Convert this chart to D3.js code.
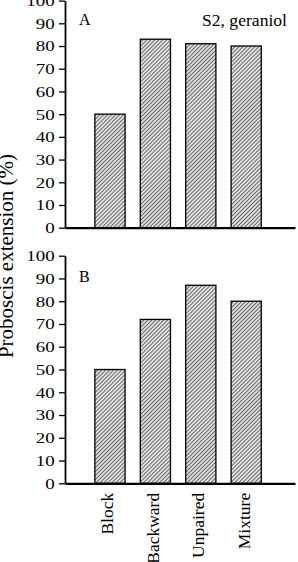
<!DOCTYPE html>
<html>
<head>
<meta charset="utf-8">
<script src="https://cdn.jsdelivr.net/npm/d3@7"></script>
<style>
  body { margin: 0; background: #fff; }
  svg { display: block; font-family: "Liberation Serif", "Times New Roman", serif; }
</style>
</head>
<body>
<svg id="chart"></svg>
<script>
var categories = ["Block", "Backward", "Unpaired", "Mixture"];
var valuesA = [50, 83, 81, 80];
var valuesB = [50, 72, 87, 80];
var yTicks = [0, 10, 20, 30, 40, 50, 60, 70, 80, 90, 100];

var dims = {
    width: 298,
    height: 562,
    left: 65,
    right: 295
}

var svg = d3.select("#chart")
    .attr("width", dims.width)
    .attr("height", dims.height)

// hatch fill used by the bars
var pat = svg.append("defs").append("pattern")
    .attr("id", "hatch")
    .attr("patternUnits", "userSpaceOnUse")
    .attr("width", 2.8)
    .attr("height", 2.8)
    .attr("patternTransform", "rotate(45)")
pat.append("rect").attr("width", 2.8).attr("height", 2.8).attr("fill", "#e0e0e0")
pat.append("line")
    .attr("x1", 0).attr("y1", 0).attr("x2", 0).attr("y2", 2.8)
    .attr("stroke", "#1a1a1a")
    .attr("stroke-width", 1.2)

var xScale = d3.scaleBand()
    .domain(categories)
    .range([dims.left, dims.right])
    .paddingInner(0.335)
    .paddingOuter(0.7)
    .align(0.47)

function drawPanel(values, top, bottom, letter, showLabels) {
    var yScale = d3.scaleLinear().domain([0, 100]).range([bottom, top])
    var g = svg.append("g")

    g.selectAll(".bar")
        .data(values)
        .enter()
        .append("rect")
        .attr("class", "bar")
        .attr("x", function(d, i) { return xScale(categories[i]); })
        .attr("y", function(d) { return yScale(d); })
        .attr("width", xScale.bandwidth())
        .attr("height", function(d) { return bottom - yScale(d); })
        .attr("fill", "url(#hatch)")
        .attr("stroke", "#000")
        .attr("stroke-width", 1.3)

    var yAxis = g.append("g")
        .attr("transform", `translate(${dims.left},0)`)
        .call(d3.axisLeft(yScale).tickValues(yTicks).tickSize(6).tickSizeOuter(0))
    yAxis.select(".domain").attr("stroke-width", 1.8)
    yAxis.selectAll(".tick line").attr("stroke-width", 1.3)
    yAxis.selectAll("text")
        .attr("font-size", 15.5)
        .attr("font-family", "Liberation Serif")
        .attr("fill", "#000")
        .attr("x", -8.5)
        .attr("transform", "scale(1.22,1)")

    var xAxis = g.append("g")
        .attr("transform", `translate(0,${bottom})`)
        .call(d3.axisBottom(xScale).tickSize(0).tickSizeOuter(0))
    xAxis.select(".domain").attr("stroke-width", 2.2)
    if (showLabels) {
        xAxis.selectAll("text")
            .attr("font-size", 17.5)
            .attr("font-family", "Liberation Serif")
            .attr("fill", "#000")
            .attr("text-anchor", "end")
            .attr("transform", "rotate(-90)")
            .attr("x", -9.5)
            .attr("y", 3.5)
            .attr("dy", 0)
    } else {
        xAxis.selectAll("text").remove()
    }

    g.append("text")
        .attr("x", 79)
        .attr("y", top + letter.dy)
        .attr("font-size", 16)
        .text(letter.text)
    return g
}

var panelA = drawPanel(valuesA, 0.6, 227.7, { text: "A", dy: 24.5 }, false)
drawPanel(valuesB, 255.7, 483.3, { text: "B", dy: 26 }, true)

panelA.append("text")
    .attr("x", 287)
    .attr("y", 26)
    .attr("text-anchor", "end")
    .attr("font-size", 16.5)
    .attr("textLength", 85)
    .attr("lengthAdjust", "spacingAndGlyphs")
    .text("S2, geraniol")

svg.append("text")
    .attr("transform", "translate(13,256) rotate(-90)")
    .attr("text-anchor", "middle")
    .attr("font-size", 21)
    .text("Proboscis extension (%)")
</script>
</body>
</html>
